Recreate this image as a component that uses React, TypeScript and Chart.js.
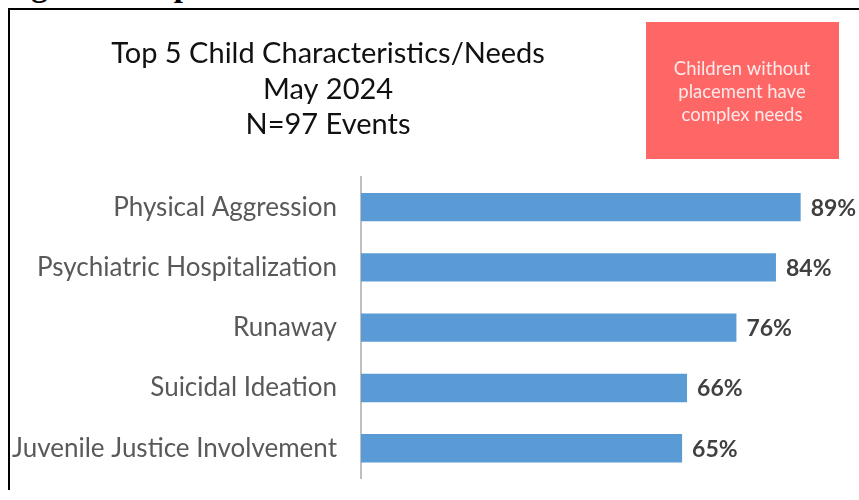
import React, { useEffect, useRef } from "react";
import { Chart, registerables } from "chart.js";

Chart.register(...registerables);

const categories = [
  "Physical Aggression",
  "Psychiatric Hospitalization",
  "Runaway",
  "Suicidal Ideation",
  "Juvenile Justice Involvement",
];
const percentValues = [89, 84, 76, 66, 65];
const titleLines = ["Top 5 Child Characteristics/Needs", "May 2024", "N=97 Events"];
const calloutLines = ["Children without", "placement have", "complex needs"];
const headingText = "Figure 3: Top 5 Child Characteristics";

const FONT = "Lato, 'Open Sans', sans-serif";

const overlayPlugin = {
  id: "overlay",
  afterDraw(chart: any) {
    const ctx = chart.ctx;
    ctx.save();
    // Title
    ctx.fillStyle = "#111111";
    ctx.font = `29px ${FONT}`;
    ctx.textAlign = "center";
    ctx.textBaseline = "alphabetic";
    const titleBaselines = [53, 89, 124];
    titleLines.forEach((t, i) => ctx.fillText(t, 318, titleBaselines[i]));

    // Callout box
    ctx.fillStyle = "#FF6666";
    ctx.fillRect(636, 12, 193, 137);
    ctx.fillStyle = "#FDEAEA";
    ctx.font = `18.5px ${FONT}`;
    const cbl = [65, 88, 111];
    calloutLines.forEach((t, i) => ctx.fillText(t, 732, cbl[i]));

    // Value labels
    const meta = chart.getDatasetMeta(0);
    ctx.font = `bold 23px ${FONT}`;
    ctx.fillStyle = "#404040";
    ctx.textAlign = "left";
    ctx.textBaseline = "middle";
    meta.data.forEach((bar: any, i: number) => {
      ctx.fillText(percentValues[i] + "%", bar.x + 10, bar.y + 1);
    });
    ctx.restore();
  },
};

export default function App() {
  const canvasRef = useRef<HTMLCanvasElement | null>(null);

  useEffect(() => {
    if (!canvasRef.current) return;
    const chart = new Chart(canvasRef.current, {
      type: "bar",
      data: {
        labels: categories,
        datasets: [
          {
            data: percentValues,
            backgroundColor: "#5B9BD5",
            borderWidth: 0,
            categoryPercentage: 1,
            barPercentage: 0.47,
          },
        ],
      },
      options: {
        indexAxis: "y",
        animation: false,
        responsive: false,
        maintainAspectRatio: false,
        layout: { padding: { top: 167, bottom: 28, right: 4, left: 0 } },
        plugins: {
          legend: { display: false },
          tooltip: { enabled: false },
          title: { display: false },
        },
        scales: {
          x: { display: false, min: 0, max: 100 },
          y: {
            afterFit: (scale: any) => {
              scale.width = 351;
            },
            grid: { display: false, drawTicks: false },
            border: { display: true, color: "#BFBFBF", width: 2 },
            ticks: {
              padding: 24,
              color: "#595959",
              font: { family: FONT, size: 26 },
            },
          },
        },
      },
      plugins: [overlayPlugin],
    });
    return () => chart.destroy();
  }, []);

  return (
    <div>
      <div
        style={{
          position: "absolute",
          left: 0,
          top: 0,
          width: 600,
          height: 6,
          overflow: "hidden",
        }}
      >
        <div
          style={{
            position: "absolute",
            left: 2,
            top: -31,
            font: "bold 33px 'Liberation Serif', serif",
            lineHeight: "33px",
            whiteSpace: "nowrap",
            color: "#000",
          }}
        >
          {headingText}
        </div>
      </div>
      <div
        style={{
          position: "absolute",
          left: 8,
          top: 8,
          borderLeft: "2px solid #000",
          borderTop: "2px solid #000",
          width: 849,
          height: 480,
          overflow: "hidden",
          background: "#fff",
        }}
      >
        <canvas ref={canvasRef} width={849} height={508} style={{ display: "block" }} />
      </div>
    </div>
  );
}
